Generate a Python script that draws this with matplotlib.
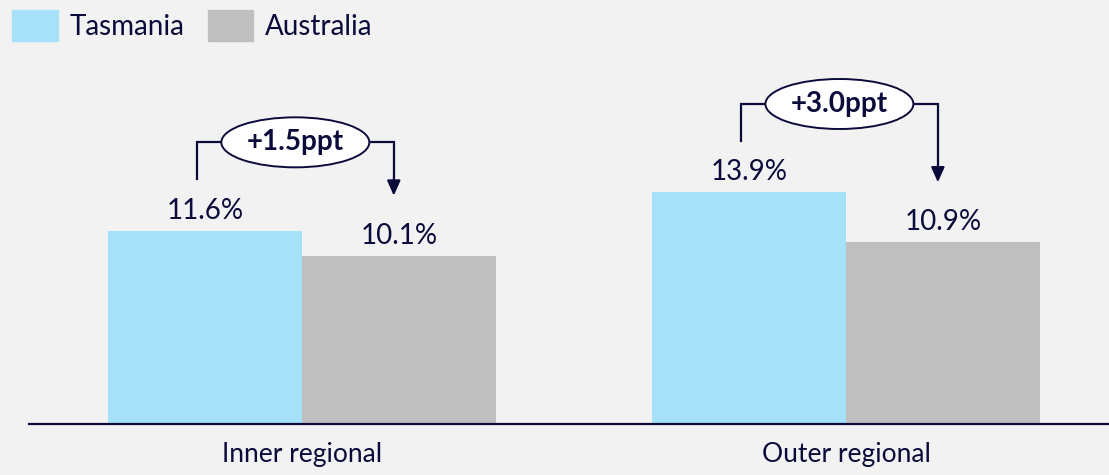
import matplotlib.pyplot as plt
from matplotlib.patches import Ellipse, Patch
import numpy as np

categories = ["Inner regional", "Outer regional"]
tasmania = [11.6, 13.9]
australia = [10.1, 10.9]
series_names = ["Tasmania", "Australia"]

bg = "#F2F2F2"
navy = "#0B0B3B"
blue = "#A6E1FA"
grey = "#BFBFBF"

plt.rcParams["font.family"] = ["Lato", "DejaVu Sans"]

fig = plt.figure(figsize=(11.09, 4.75), dpi=100, facecolor=bg)
ax = fig.add_axes([29 / 1109, 51 / 475, 1080 / 1109, 364 / 475])
ax.set_facecolor(bg)

x = np.arange(len(categories))
w = 0.357
ax.bar(x - w / 2, tasmania, w, color=blue)
ax.bar(x + w / 2, australia, w, color=grey)

ax.set_xlim(-0.502, 1.483)
ax.set_ylim(0, 21.84)

for xi, t, a in zip(x, tasmania, australia):
    for xx, v in ((xi - w / 2, t), (xi + w / 2, a)):
        ax.annotate(f"{v:.1f}%", (xx, v), xytext=(0, 5), textcoords="offset points",
                    ha="center", va="bottom", fontsize=20, color=navy)

    # difference bracket
    xl = xi - w / 2 - 0.015
    xr = xi + w / 2 - 0.01
    y0 = t + 3.1
    ytop = max(t, a) + 5.3
    ytip = a + 3.6
    xm = (xl + xr) / 2
    ew, eh = 0.272, 3.0
    ax.plot([xl, xl, xm - ew / 2], [y0, ytop, ytop], color=navy, lw=1.6,
            solid_joinstyle="miter")
    ax.plot([xm + ew / 2, xr, xr], [ytop, ytop, ytip + 0.9], color=navy, lw=1.6,
            solid_joinstyle="miter")
    ax.annotate("", xy=(xr, ytip), xytext=(xr, ytip + 1.0),
                arrowprops=dict(arrowstyle="-|>,head_length=0.9,head_width=0.4",
                                color=navy, lw=1.6, shrinkA=0, shrinkB=0))
    ax.add_patch(Ellipse((xm, ytop), ew, eh, facecolor="white", edgecolor=navy, lw=1.4,
                         zorder=3))
    ax.text(xm, ytop, f"+{t - a:.1f}ppt", ha="center", va="center", fontsize=20,
            fontweight="bold", color=navy, zorder=4)

for s in ["top", "right", "left"]:
    ax.spines[s].set_visible(False)
ax.spines["bottom"].set_color(navy)
ax.spines["bottom"].set_linewidth(1.6)
ax.set_yticks([])
ax.set_xticks(x)
ax.set_xticklabels(categories, fontsize=19, color=navy)
ax.tick_params(axis="x", length=0, pad=13)

handles = [Patch(color=blue), Patch(color=grey)]
fig.legend(handles, series_names, loc="upper left", bbox_to_anchor=(0.006, 0.99),
           ncol=2, frameon=False, fontsize=20, labelcolor=navy,
           handlelength=1.65, handleheight=1.3, handletextpad=0.4, columnspacing=0.85,
           borderaxespad=0.0, borderpad=0.2)

fig.savefig("out.png", dpi=100, facecolor=bg)
